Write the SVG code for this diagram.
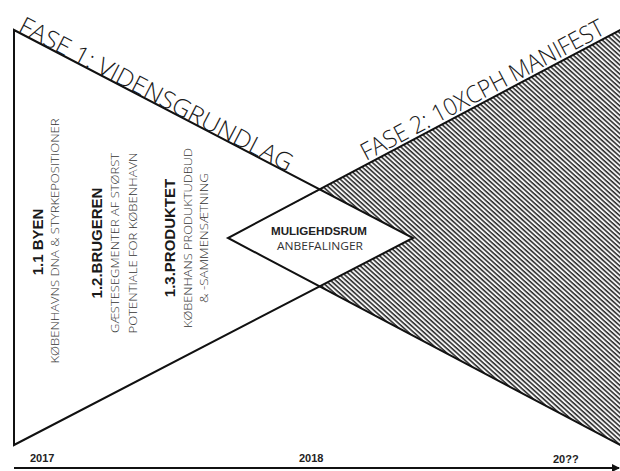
<svg xmlns="http://www.w3.org/2000/svg" width="620" height="471" viewBox="0 0 620 471">
<style>
.outline{fill:none;stroke:#111;stroke-width:2;stroke-linejoin:miter}
.phase{font-family:"Open Sans","DejaVu Sans",sans-serif;font-weight:300;font-size:24px;fill:#1a1a1a}
.head{font-family:"Liberation Sans",Arial,sans-serif;font-weight:bold;font-size:15px;fill:#1a1a1a}
.desc{font-family:"Open Sans","DejaVu Sans",sans-serif;font-weight:300;font-size:11px;fill:#333}
.dh{font-family:"Liberation Sans",Arial,sans-serif;font-weight:bold;font-size:11px;fill:#222}
.dd{font-family:"Open Sans","DejaVu Sans",sans-serif;font-size:11px;fill:#333}
.year{font-family:"Liberation Sans",Arial,sans-serif;font-weight:bold;font-size:11px;fill:#222}
</style>
<defs>
<pattern id="hatch" patternUnits="userSpaceOnUse" width="3.4" height="3.4" patternTransform="rotate(42)">
<rect width="3.4" height="3.4" fill="#f2f2f2"/>
<rect y="0" width="3.4" height="1.5" fill="#2a2a2a"/>
</pattern>
<marker id="arr" markerWidth="8" markerHeight="8" refX="7" refY="4" orient="auto" markerUnits="userSpaceOnUse">
<path d="M0,0 L8,4 L0,8 z" fill="#111"/>
</marker>
</defs>
<rect width="620" height="471" fill="#fff"/>

<g id="fase2">
<polygon points="622,29 228,238 622,446" fill="url(#hatch)"/>
</g>
<g id="mulighedsrum">
<polygon points="228,238 320,190 413,238 320,287" fill="#fff"/>
</g>
<g id="fase1">
<polygon class="outline" points="14,30 413,238 14,445"/>
</g>
<g id="fase2-outline">
<polyline class="outline" points="622,29 228,238 622,446"/>
</g>

<g id="labels-fase">
<text class="phase" transform="translate(17,31) rotate(27.53)" textLength="305" lengthAdjust="spacingAndGlyphs">FASE 1: VIDENSGRUNDLAG</text>
<text class="phase" transform="translate(366,161) rotate(-27.95)" textLength="272" lengthAdjust="spacingAndGlyphs">FASE 2: 10XCPH MANIFEST</text>
</g>

<g id="byen">
<text class="head" text-anchor="middle" transform="translate(43,242) rotate(-90)">1.1 BYEN</text>
<text class="desc" text-anchor="middle" transform="translate(59,241) rotate(-90)" textLength="245" lengthAdjust="spacingAndGlyphs">KØBENHAVNS DNA &amp; STYRKEPOSITIONER</text>
</g>
<g id="brugeren">
<text class="head" text-anchor="middle" transform="translate(102,243) rotate(-90)">1.2.BRUGEREN</text>
<text class="desc" text-anchor="middle" transform="translate(119,243) rotate(-90)" textLength="180" lengthAdjust="spacingAndGlyphs">GÆSTESEGMENTER AF STØRST</text>
<text class="desc" text-anchor="middle" transform="translate(137,243) rotate(-90)" textLength="181" lengthAdjust="spacingAndGlyphs">POTENTIALE FOR KØBENHAVN</text>
</g>
<g id="produktet">
<text class="head" text-anchor="middle" transform="translate(175,238) rotate(-90)">1.3.PRODUKTET</text>
<text class="desc" text-anchor="middle" transform="translate(192,238) rotate(-90)" textLength="180" lengthAdjust="spacingAndGlyphs">KØBENHANS PRODUKTUDBUD</text>
<text class="desc" text-anchor="middle" transform="translate(208,238) rotate(-90)" textLength="130" lengthAdjust="spacingAndGlyphs">&amp; -SAMMENSÆTNING</text>
</g>
<g id="diamond-text">
<text class="dh" x="319" y="235" text-anchor="middle" textLength="96" lengthAdjust="spacingAndGlyphs">MULIGEHDSRUM</text>
<text class="dd" x="320" y="250" text-anchor="middle" textLength="86" lengthAdjust="spacingAndGlyphs">ANBEFALINGER</text>
</g>

<g id="connectors">
<line x1="14" y1="468" x2="619" y2="468" stroke="#111" stroke-width="2" marker-end="url(#arr)"/>
</g>
<g id="years">
<text class="year" x="30" y="462">2017</text>
<text class="year" x="299" y="462">2018</text>
<text class="year" x="553" y="463">20??</text>
</g>
</svg>
